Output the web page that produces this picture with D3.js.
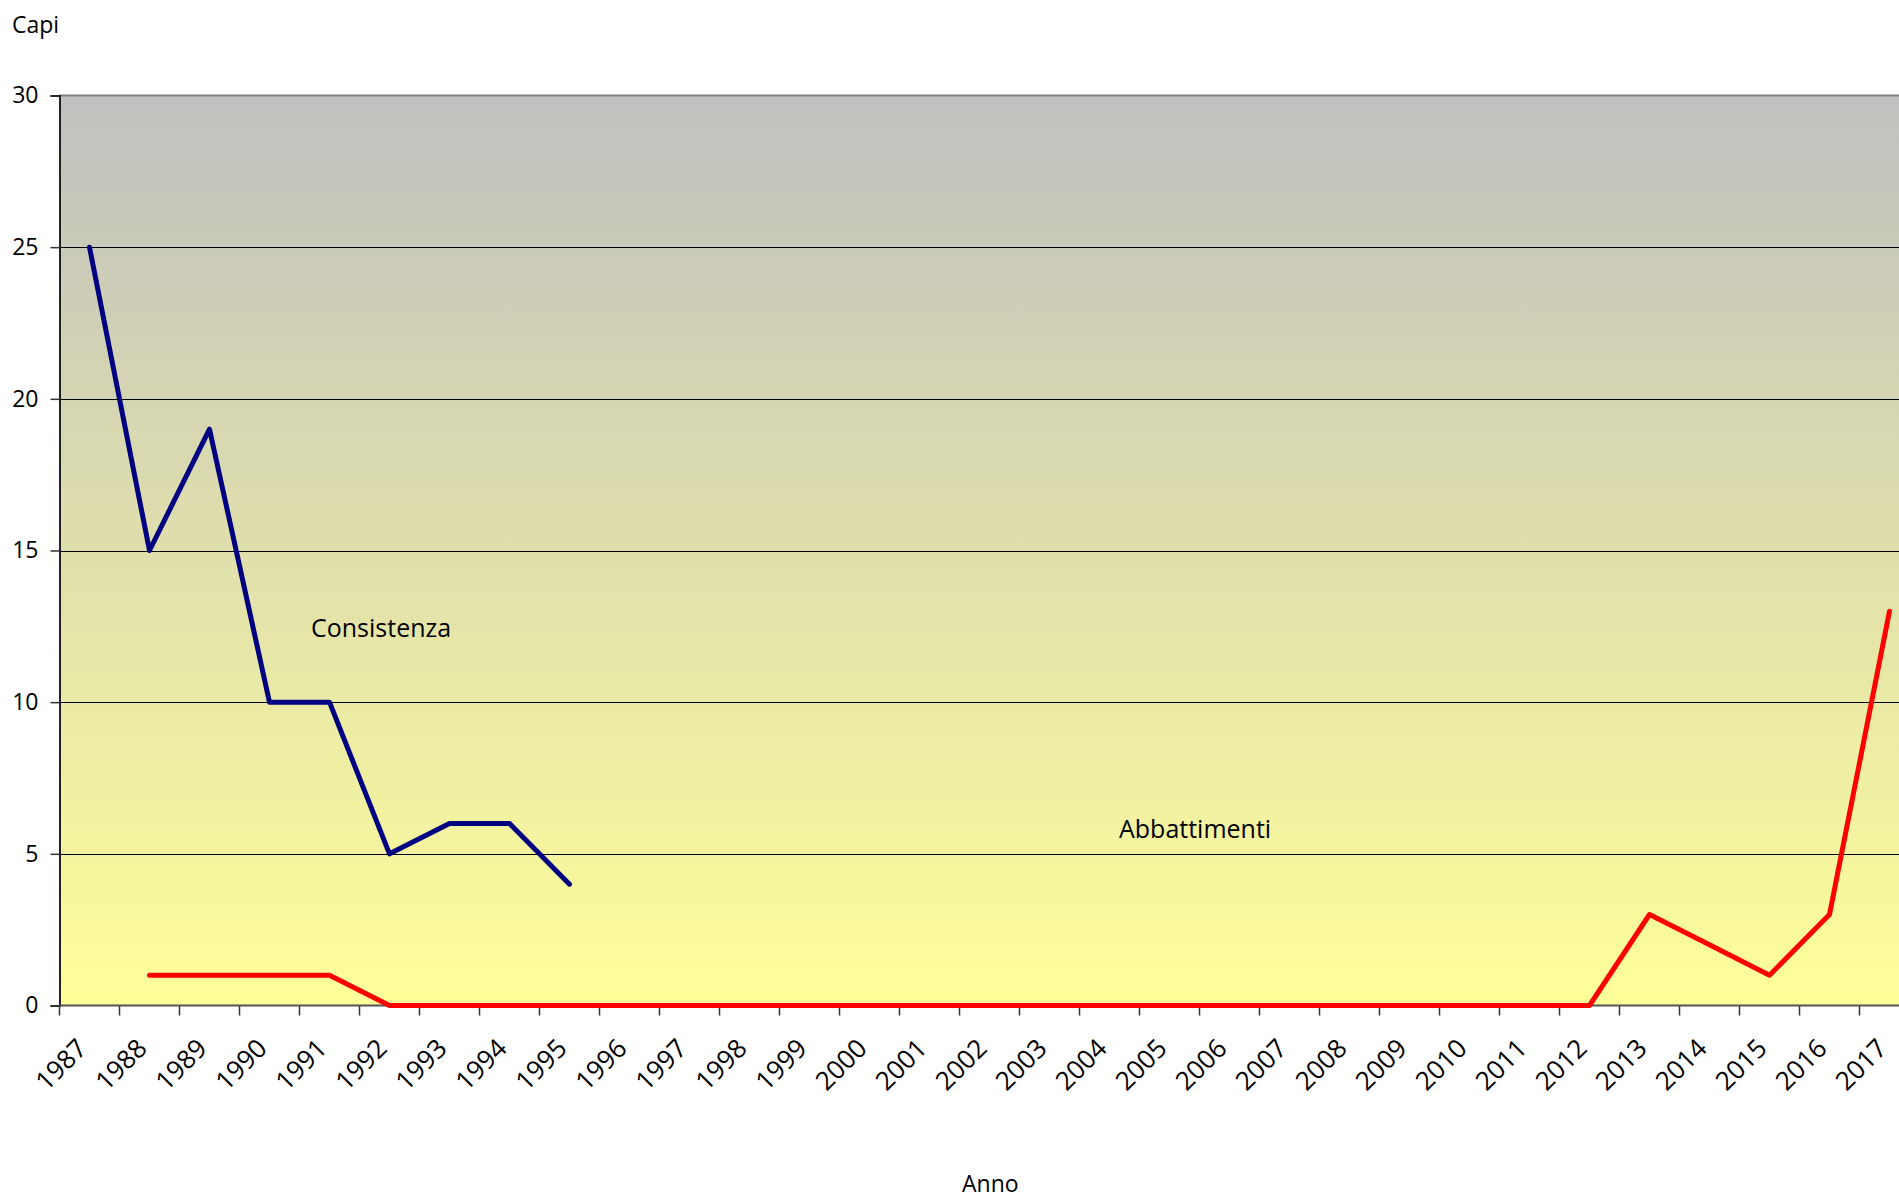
<!DOCTYPE html>
<html>
<head>
<meta charset="utf-8">
<script src="https://cdn.jsdelivr.net/npm/d3@7"></script>
<style>
  body { margin: 0; background: #fff; }
  svg { display: block; }
</style>
</head>
<body>
<svg></svg>
<script>
var years = [1987, 1988, 1989, 1990, 1991, 1992, 1993, 1994, 1995, 1996, 1997, 1998, 1999, 2000,
  2001, 2002, 2003, 2004, 2005, 2006, 2007, 2008, 2009, 2010, 2011, 2012, 2013, 2014, 2015, 2016, 2017];

// Consistenza: counted only until 1995
var consistenza = [25, 15, 19, 10, 10, 5, 6, 6, 4, null, null, null, null, null,
  null, null, null, null, null, null, null, null, null, null, null, null, null, null, null, null, null];

// Abbattimenti: from 1988
var abbattimenti = [null, 1, 1, 1, 1, 0, 0, 0, 0, 0, 0, 0, 0, 0,
  0, 0, 0, 0, 0, 0, 0, 0, 0, 0, 0, 0, 3, 2, 1, 3, 13];

var yTicks = [0, 5, 10, 15, 20, 25, 30];

var svgWidth = 1899;
var svgHeight = 1200;
var plotLeft = 59.5, plotTop = 95.5, plotBottom = 1005.5;
var step = 60;
var font = "'Open Sans', 'Noto Sans', sans-serif";

var svg = d3.select("svg")
  .attr("width", svgWidth)
  .attr("height", svgHeight);

var x = d3.scaleBand()
  .domain(years)
  .range([plotLeft, plotLeft + step * years.length])
  .padding(0);

var y = d3.scaleLinear()
  .domain([0, 30])
  .range([plotBottom, plotTop]);

// background gradient grey -> pale yellow
var grad = svg.append("defs").append("linearGradient")
  .attr("id", "bg")
  .attr("x1", 0).attr("y1", 0).attr("x2", 0).attr("y2", 1);
grad.append("stop").attr("offset", "0%").attr("stop-color", "#c0c0c0");
grad.append("stop").attr("offset", "100%").attr("stop-color", "#ffff99");

svg.append("rect")
  .attr("x", plotLeft)
  .attr("y", plotTop)
  .attr("width", svgWidth - plotLeft)
  .attr("height", plotBottom - plotTop)
  .attr("fill", "url(#bg)");

// gridlines
svg.selectAll("line.grid")
  .data(yTicks.filter(function(d) { return d > 0 && d < 30; }))
  .enter()
  .append("line")
  .attr("class", "grid")
  .attr("x1", plotLeft)
  .attr("x2", svgWidth)
  .attr("y1", function(d) { return Math.round(y(d)) + 0.5; })
  .attr("y2", function(d) { return Math.round(y(d)) + 0.5; })
  .attr("stroke", "#000")
  .attr("stroke-width", 1);

// top border
svg.append("line")
  .attr("x1", plotLeft).attr("x2", svgWidth)
  .attr("y1", plotTop).attr("y2", plotTop)
  .attr("stroke", "#808080")
  .attr("stroke-width", 2);

// y axis
var yAxis = d3.axisLeft(y)
  .tickValues(yTicks)
  .tickSize(9)
  .tickPadding(12);

var gy = svg.append("g")
  .attr("transform", "translate(" + plotLeft + ",0)")
  .call(yAxis);
gy.select(".domain").attr("stroke", "#222").attr("stroke-width", 2);
gy.selectAll(".tick line").attr("stroke", "#333").attr("stroke-width", 1.5);
gy.selectAll(".tick text")
  .attr("font-family", font)
  .attr("font-size", "23px")
  .attr("fill", "#000");

// x axis: ticks on category edges, labels rotated
svg.selectAll("line.xtick")
  .data(years)
  .enter()
  .append("line")
  .attr("class", "xtick")
  .attr("x1", function(d) { return x(d); })
  .attr("x2", function(d) { return x(d); })
  .attr("y1", plotBottom)
  .attr("y2", plotBottom + 10)
  .attr("stroke", "#333")
  .attr("stroke-width", 1.5);

svg.append("line")
  .attr("x1", plotLeft).attr("x2", svgWidth)
  .attr("y1", plotBottom).attr("y2", plotBottom)
  .attr("stroke", "#555")
  .attr("stroke-width", 2);

svg.selectAll("text.year")
  .data(years)
  .enter()
  .append("text")
  .attr("class", "year")
  .text(function(d) { return d; })
  .attr("text-anchor", "end")
  .attr("transform", function(d) {
    var cx = x(d) + x.bandwidth() / 2 - 1;
    return "translate(" + cx + "," + 1050 + ") rotate(-45)";
  })
  .attr("font-family", font)
  .attr("font-size", "26px")
  .attr("fill", "#000");

// lines
function lineFor(values) {
  return d3.line()
    .defined(function(d) { return d != null; })
    .x(function(d, i) { return x(years[i]) + x.bandwidth() / 2; })
    .y(function(d) { return y(d); })(values);
}

svg.append("path")
  .attr("d", lineFor(abbattimenti))
  .attr("fill", "none")
  .attr("stroke", "#ff0000")
  .attr("stroke-width", 5)
  .attr("stroke-linejoin", "round")
  .attr("stroke-linecap", "round");

svg.append("path")
  .attr("d", lineFor(consistenza))
  .attr("fill", "none")
  .attr("stroke", "#000080")
  .attr("stroke-width", 5)
  .attr("stroke-linejoin", "round")
  .attr("stroke-linecap", "round");

// labels
function label(txt, lx, ly, size) {
  svg.append("text")
    .text(txt)
    .attr("x", lx)
    .attr("y", ly)
    .attr("font-family", font)
    .attr("font-size", size)
    .attr("fill", "#000");
}

label("Consistenza", 311, 637, "25px");
label("Abbattimenti", 1119, 838, "25px");
label("Capi", 12, 33, "23px");
label("Anno", 962, 1192, "23px");
</script>
</body>
</html>
